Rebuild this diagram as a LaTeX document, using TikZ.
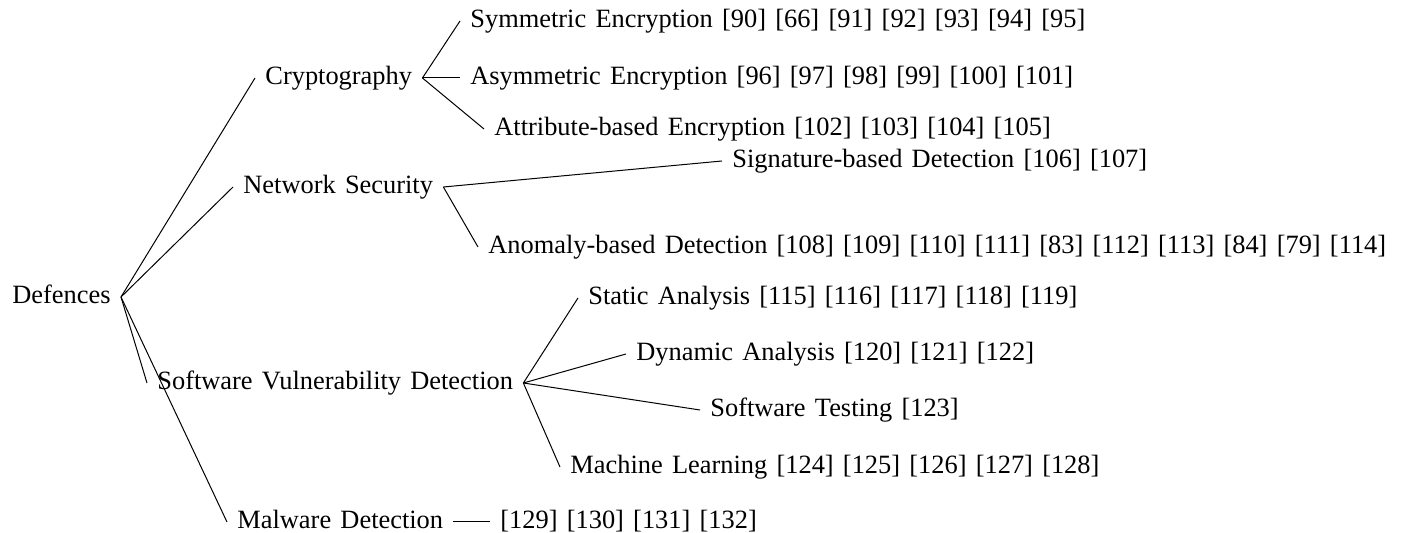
\documentclass[tikz,border=0pt]{standalone}
\usepackage{fontspec}
\setmainfont[WordSpace=1.4]{Liberation Serif}
\begin{document}
\begin{tikzpicture}[x=0.5pt,y=-0.5pt,
  lbl/.style={anchor=west,inner sep=5pt,font=\fontsize{13.2}{16}\selectfont,text height=9pt,text depth=2.7pt},
  edge/.style={draw=black,line width=0.5pt}]
\useasboundingbox (0,0) rectangle (1409,533);
\node[lbl] (def) at (2,297) {Defences};
\node[lbl] (cry) at (255,78) {Cryptography};
\node[lbl] (sym) at (460,21) {Symmetric Encryption [90] [66] [91] [92] [93] [94] [95]};
\node[lbl] (asy) at (460,78) {Asymmetric Encryption [96] [97] [98] [99] [100] [101]};
\node[lbl] (att) at (484,129) {Attribute-based Encryption [102] [103] [104] [105]};
\node[lbl] (net) at (233,187) {Network Security};
\node[lbl] (sig) at (722,161) {Signature-based Detection [106] [107]};
\node[lbl] (ano) at (478,247) {Anomaly-based Detection [108] [109] [110] [111] [83] [112] [113] [84] [79] [114]};
\node[lbl] (svd) at (147,383) {Software Vulnerability Detection};
\node[lbl] (sta) at (578,298) {Static Analysis [115] [116] [117] [118] [119]};
\node[lbl] (dyn) at (626,354) {Dynamic Analysis [120] [121] [122]};
\node[lbl] (swt) at (700,410) {Software Testing [123]};
\node[lbl] (ml) at (560,467) {Machine Learning [124] [125] [126] [127] [128]};
\node[lbl] (mal) at (227,522) {Malware Detection};
\node[lbl] (ref) at (490,522) {[129] [130] [131] [132]};
\draw[edge] (def.east) -- (cry.west);
\draw[edge] (def.east) -- (net.west);
\draw[edge] (def.east) -- (svd.west);
\draw[edge] (def.east) -- (mal.west);
\draw[edge] (cry.east) -- (sym.west);
\draw[edge] (cry.east) -- (asy.west);
\draw[edge] (cry.east) -- (att.west);
\draw[edge] (net.east) -- (sig.west);
\draw[edge] (net.east) -- (ano.west);
\draw[edge] (svd.east) -- (sta.west);
\draw[edge] (svd.east) -- (dyn.west);
\draw[edge] (svd.east) -- (swt.west);
\draw[edge] (svd.east) -- (ml.west);
\draw[edge] (mal.east) -- (ref.west);
\end{tikzpicture}
\end{document}
